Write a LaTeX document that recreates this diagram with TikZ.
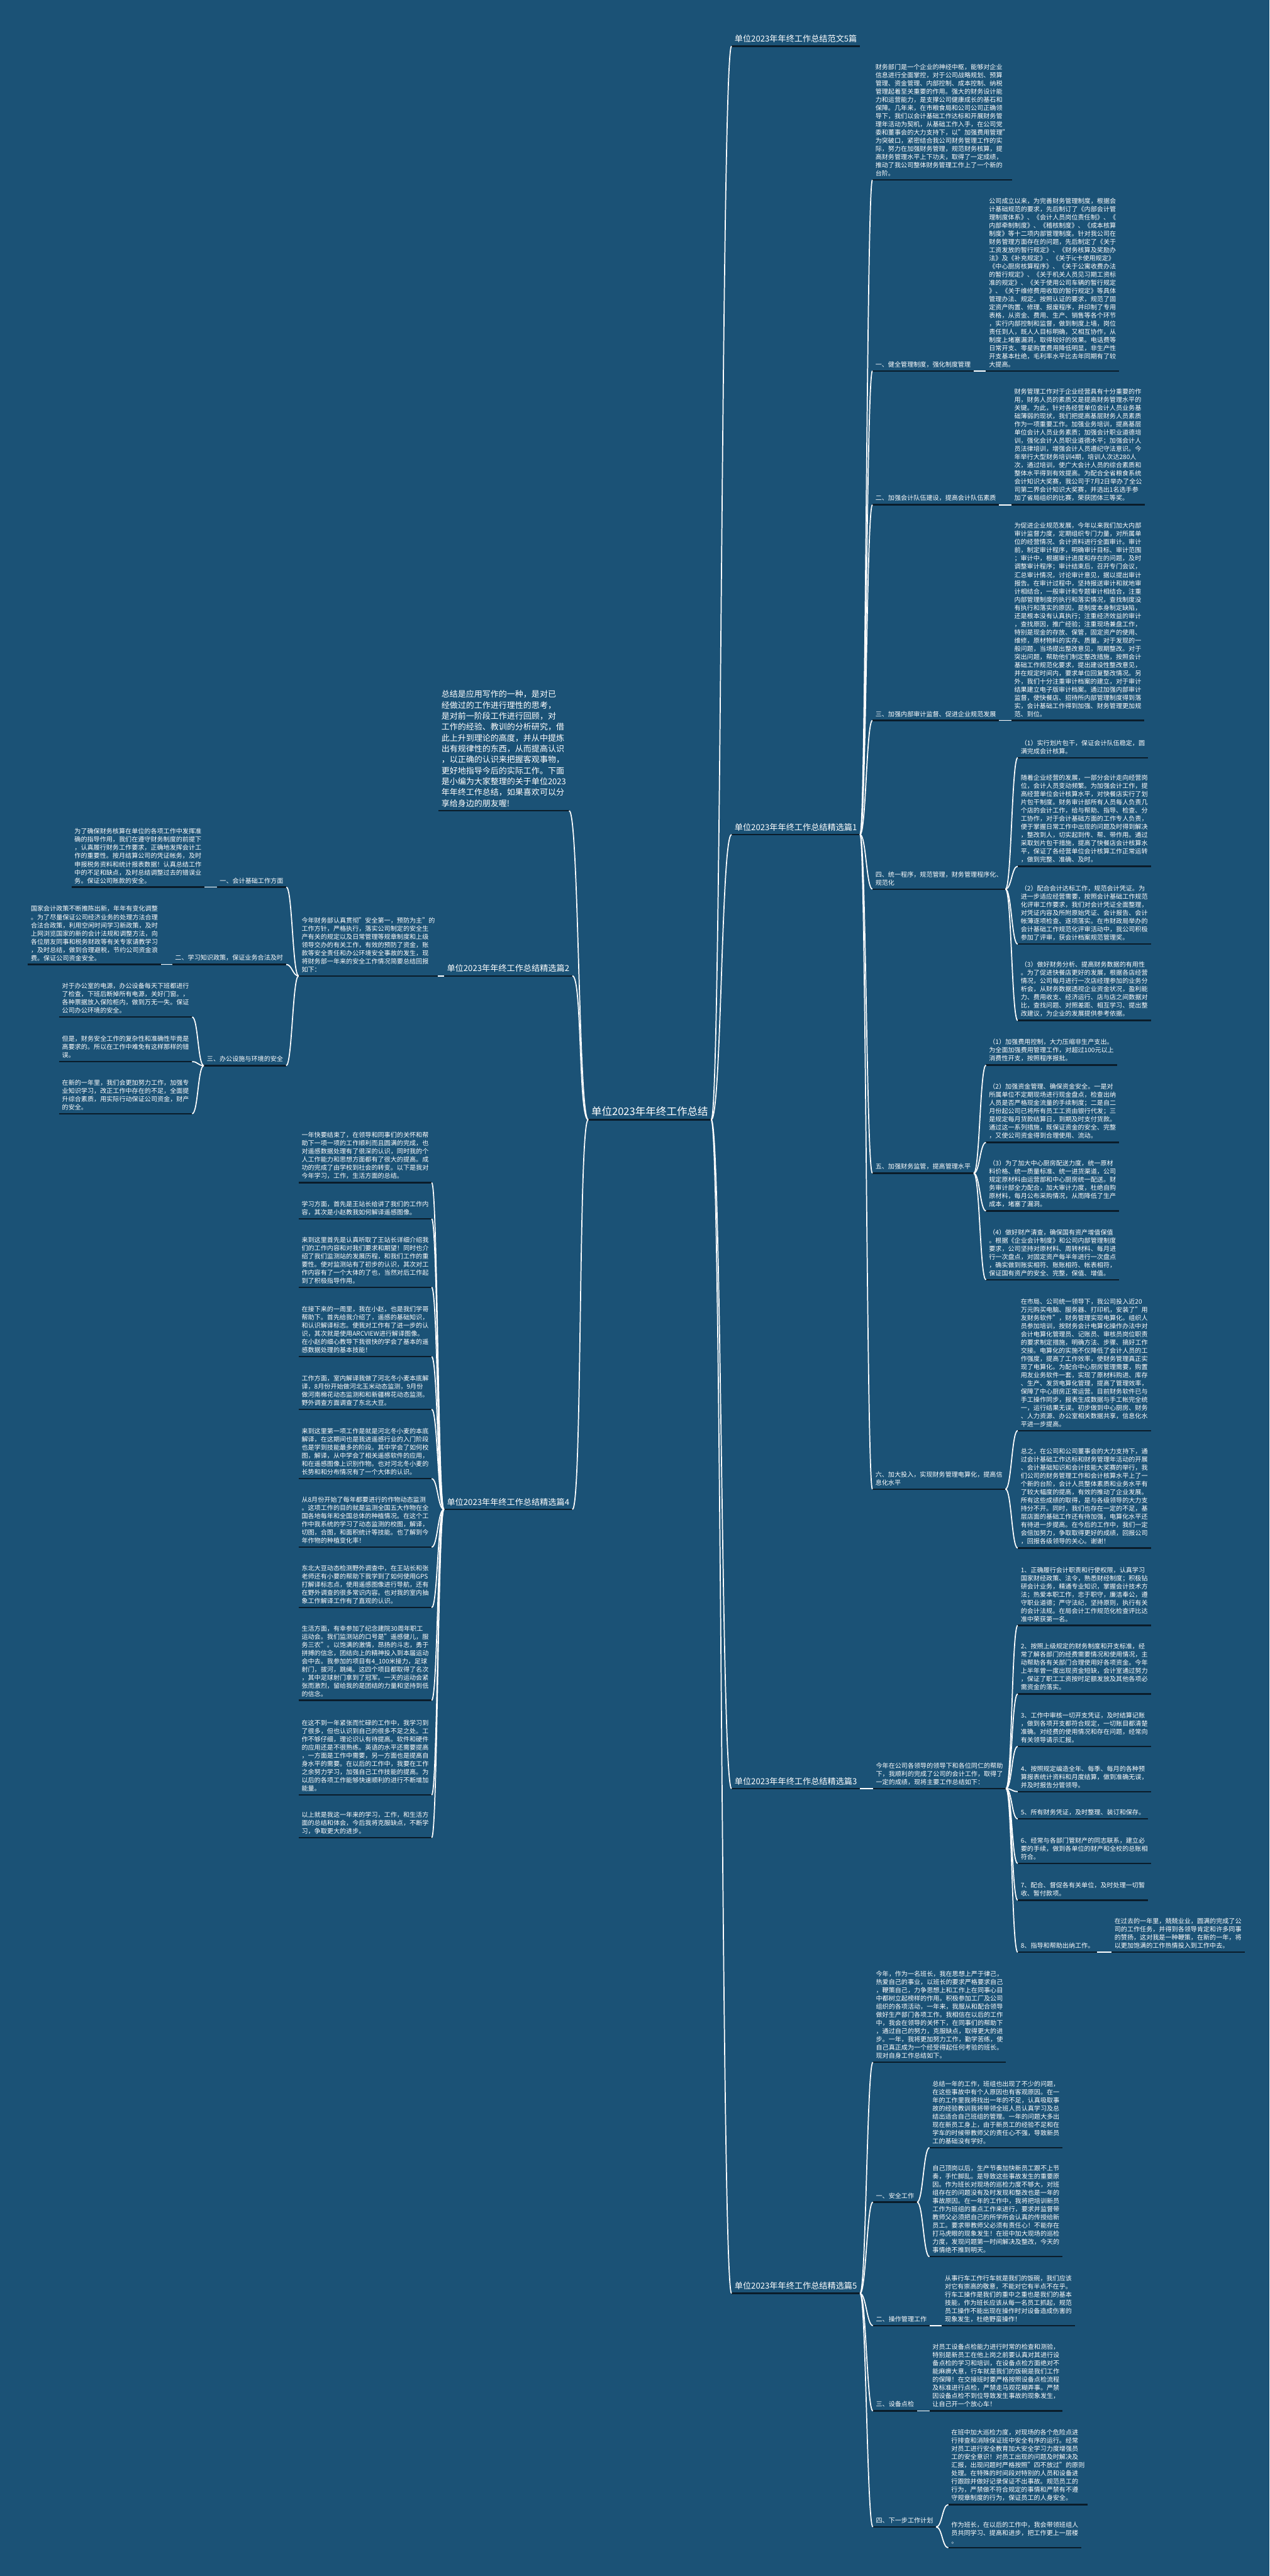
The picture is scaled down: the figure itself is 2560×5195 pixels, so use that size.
\documentclass[tikz,border=0pt]{standalone}
\usepackage{fontspec}
\setmainfont{Noto Sans CJK SC}
\definecolor{bg}{HTML}{1B5276}
\definecolor{ulc}{HTML}{0A1C2A}
\tikzset{
 x=1pt,y=-1pt,
 wire/.style={draw=white,line width=2.2pt},
 ulp/.style={draw=ulc,line width=3pt},
 tn/.style={text=white,align=left,inner xsep=6pt,inner ysep=7pt,anchor=south west,font=\fontsize{12.8}{16.5}\selectfont},
 tb/.style={tn,font=\fontsize{16.7}{22}\selectfont},
 ti/.style={tn,font=\fontsize{16.5}{22}\selectfont},
 troot/.style={tn,font=\fontsize{21}{26}\selectfont},
}
\newcommand\conR[3][12]{\draw[wire] (#2.south east) .. controls +(#1,0) and +(-#1,0) .. (#3.south west);}
\newcommand\conL[3][12]{\draw[wire] (#2.south west) .. controls +(-#1,0) and +(#1,0) .. (#3.south east);}
\begin{document}
\begin{tikzpicture}
\fill[bg] (0,0) rectangle (2560,5195);
\useasboundingbox (0,0) rectangle (2560,5195);

% root
\node[troot] (root) at (1186,2258) {单位2023年年终工作总结};

% ---------- right: 范文5篇
\node[tb] (f5) at (1475,93) {单位2023年年终工作总结范文5篇};

% ---------- right: 精选篇1
\node[tb] (p1) at (1475,1683) {单位2023年年终工作总结精选篇1};
\node[tn] (p1t) at (1759,363) {财务部门是一个企业的神经中枢，能够对企业\\信息进行全面掌控，对于公司战略规划、预算\\管理、资金管理、内部控制、成本控制、纳税\\管理起着至关重要的作用。强大的财务设计能\\力和运营能力，是支撑公司健康成长的基石和\\保障。几年来，在市粮食局和公司公司正确领\\导下，我们以会计基础工作达标和开展财务管\\理年活动为契机，从基础工作入手，在公司党\\委和董事会的大力支持下，以"加强费用管理"\\为突破口，紧密结合我公司财务管理工作的实\\际，努力在加强财务管理，规范财务核算，提\\高财务管理水平上下功夫，取得了一定成绩，\\推动了我公司整体财务管理工作上了一个新的\\台阶。};
\node[tn] (p1a) at (1759,748) {一、健全管理制度，强化制度管理};
\node[tn] (p1at) at (1988,748) {公司成立以来，为完善财务管理制度，根据会\\计基础规范的要求，先后制订了《内部会计管\\理制度体系》、《会计人员岗位责任制》、《\\内部牵制制度》、《稽核制度》、《成本核算\\制度》等十二项内部管理制度。针对我公司在\\财务管理方面存在的问题，先后制定了《关于\\工资发放的暂行规定》、《财务核算及奖励办\\法》及《补充规定》、《关于ic卡使用规定》\\《中心厨房核算程序》、《关于公寓收费办法\\的暂行规定》、《关于机关人员见习期工资标\\准的规定》、《关于使用公司车辆的暂行规定\\》、《关于维修费用收取的暂行规定》等具体\\管理办法、规定。按照认证的要求，规范了固\\定资产购置、修理、报废程序，并印制了专用\\表格，从资金、费用、生产、销售等各个环节\\，实行内部控制和监督，做到制度上墙，岗位\\责任到人，既人人目标明确，又相互协作，从\\制度上堵塞漏洞，取得较好的效果。电话费等\\日常开支、零星购置费用降低明显，非生产性\\开支基本杜绝，毛利率水平比去年同期有了较\\大提高。};
\node[tn] (p1b) at (1759,1018) {二、加强会计队伍建设，提高会计队伍素质};
\node[tn] (p1bt) at (2039,1018) {财务管理工作对于企业经营具有十分重要的作\\用，财务人员的素质又是提高财务管理水平的\\关键。为此，针对各经营单位会计人员业务基\\础薄弱的现状，我们把提高基层财务人员素质\\作为一项重要工作。加强业务培训，提高基层\\单位会计人员业务素质；加强会计职业道德培\\训，强化会计人员职业道德水平；加强会计人\\员法律培训，增强会计人员遵纪守法意识。今\\年举行大型财务培训4期，培训人次达280人\\次，通过培训，使广大会计人员的综合素质和\\整体水平得到有效提高。为配合全省粮食系统\\会计知识大奖赛，我公司于7月2日举办了全公\\司第二界会计知识大奖赛，并选出1名选手参\\加了省局组织的比赛，荣获团体三等奖。};
\node[tn] (p1c) at (1759,1453) {三、加强内部审计监督、促进企业规范发展};
\node[tn] (p1ct) at (2039,1453) {为促进企业规范发展，今年以来我们加大内部\\审计监督力度，定期组织专门力量，对所属单\\位的经营情况、会计资料进行全面审计。审计\\前，制定审计程序，明确审计目标、审计范围\\；审计中，根据审计进度和存在的问题，及时\\调整审计程序；审计结束后，召开专门会议，\\汇总审计情况，讨论审计意见，据以提出审计\\报告。在审计过程中，坚持报送审计和就地审\\计相结合，一般审计和专题审计相结合，注重\\内部管理制度的执行和落实情况，查找制度没\\有执行和落实的原因，是制度本身制定缺陷，\\还是根本没有认真执行；注重经济效益的审计\\，查找原因，推广经验；注重现场兼盘工作，\\特别是现金的存放、保管，固定资产的使用、\\维修，原材物料的实存、质量。对于发现的一\\般问题，当场提出整改意见，限期整改。对于\\突出问题，帮助他们制定整改措施，按照会计\\基础工作规范化要求，提出建设性整改意见，\\并在规定时间内，要求单位回复整改情况。另\\外，我们十分注重审计档案的建立，对于审计\\结果建立电子版审计档案。通过加强内部审计\\监督，使快餐店、招待所内部管理制度得到落\\实，会计基础工作得到加强、财务管理更加规\\范、到位。};
\node[tn] (p1d) at (1759,1793) {四、统一程序，规范管理，财务管理程序化、\\规范化};
\node[tn] (p1d1) at (2052,1528) {（1）实行划片包干，保证会计队伍稳定，圆\\满完成会计核算。};
\node[tn] (p1d2) at (2052,1747) {随着企业经营的发展，一部分会计走向经营岗\\位，会计人员变动频繁。为加强会计工作，提\\高经营单位会计核算水平，对快餐店实行了划\\片包干制度。财务审计部所有人员每人负责几\\个店的会计工作，给与帮助、指导、检查、分\\工协作，对于会计基础方面的工作专人负责，\\便于掌握日常工作中出现的问题及时得到解决\\，整改到人，切实起到传、帮、带作用。通过\\采取划片包干措施，提高了快餐店会计核算水\\平，保证了各经营单位会计核算工作正常运转\\，做到完整、准确、及时。};
\node[tn] (p1d3) at (2052,1904) {（2）配合会计达标工作，规范会计凭证。为\\进一步适应经营需要，按照会计基础工作规范\\化评审工作要求，我们对会计凭证全面整理，\\对凭证内容及所附原始凭证、会计报告、会计\\帐薄逐项检查、逐项落实。在市财政局举办的\\会计基础工作规范化评审活动中，我公司积极\\参加了评审，获会计档案规范管理奖。};
\node[tn] (p1d4) at (2052,2058) {（3）做好财务分析、提高财务数据的有用性\\。为了促进快餐店更好的发展，根据各店经营\\情况，公司每月进行一次店经理参加的业务分\\析会，从财务数据透视企业资金状况，盈利能\\力、费用收支、经济运行、店与店之间数据对\\比，查找问题、对照差距、相互学习、提出整\\改建议，为企业的发展提供参考依据。};
\node[tn] (p1e) at (1759,2366) {五、加强财务监管，提高管理水平};
\node[tn] (p1e1) at (1988,2148) {（1）加强费用控制，大力压缩非生产支出。\\为全面加强费用管理工作，对超过100元以上\\消费性开支，按照程序报批。};
\node[tn] (p1e2) at (1988,2304) {（2）加强资金管理、确保资金安全。一是对\\所属单位不定期现场进行现金盘点，检查出纳\\人员是否严格现金流量的手续制度；二是自二\\月份起公司已将所有员工工资由银行代发；三\\是规定每月货款结算日，到期及时支付货款。\\通过这一系列措施，既保证资金的安全、完整\\，又使公司资金得到合理使用、流动。};
\node[tn] (p1e3) at (1988,2442) {（3）为了加大中心厨房配送力度，统一原材\\料价格、统一质量标准、统一进货渠道，公司\\规定原材料由运营部和中心厨房统一配送。财\\务审计部全力配合，加大审计力度，杜绝自购\\原材料，每月公布采购情况，从而降低了生产\\成本，堵塞了漏洞。};
\node[tn] (p1e4) at (1988,2581) {（4）做好财产清查，确保国有资产增值保值\\。根据《企业会计制度》和公司内部管理制度\\要求，公司坚持对原材料、周转材料、每月进\\行一次盘点，对固定资产每半年进行一次盘点\\，确实做到账实相符、账账相符、帐表相符，\\保证国有资产的安全、完整，保值、增值。};
\node[tn] (p1f) at (1759,3003) {六、加大投入，实现财务管理电算化，提高信\\息化水平};
\node[tn] (p1f1) at (2052,2885) {在市局、公司统一领导下，我公司投入近20\\万元购买电脑、服务器、打印机，安装了"用\\友财务软件"，财务管理实现电算化。组织人\\员参加培训，按财务会计电算化操作办法中对\\会计电算化管理员、记账员、审核员岗位职责\\的要求制定措施，明确方法、步骤、搞好工作\\交接。电算化的实施不仅降低了会计人员的工\\作强度，提高了工作效率，使财务管理真正实\\现了电算化。为配合中心厨房管理需要，购置\\用友业务软件一套，实现了原材料购进、库存\\、生产、发货电算化管理，提高了管理效率，\\保障了中心厨房正常运营。目前财务软件已与\\手工操作同步，报表生成数据与手工帐完全统\\一，运行结果无误。初步做到中心厨房、财务\\、人力资源、办公室相关数据共享，信息化水\\平进一步提高。};
\node[tn] (p1f2) at (2052,3122) {总之，在公司和公司董事会的大力支持下，通\\过会计基础工作达标和财务管理年活动的开展\\、会计基础知识和会计技能大奖赛的举行，我\\们公司的财务管理工作和会计核算水平上了一\\个新的台阶，会计人员整体素质和业务水平有\\了较大幅度的提高，有效的推动了企业发展。\\所有这些成绩的取得，是与各级领导的大力支\\持分不开。同时，我们也存在一定的不足，基\\层店面的基础工作还有待加强，电算化水平还\\有待进一步提高。在今后的工作中，我们一定\\会倍加努力，争取取得更好的成绩，回报公司\\，回报各级领导的关心。谢谢！};

% ---------- right: 精选篇3
\node[tb] (p3) at (1475,3607) {单位2023年年终工作总结精选篇3};
\node[tn] (p3t) at (1760,3607) {今年在公司各领导的领导下和各位同仁的帮助\\下，我顺利的完成了公司的会计工作，取得了\\一定的成绩，现将主要工作总结如下：};
\node[tn] (p3i1) at (2052,3278) {1、正确履行会计职责和行使权限，认真学习\\国家财经政策、法令，熟悉财经制度；积极钻\\研会计业务，精通专业知识，掌握会计技术方\\法；热爱本职工作，忠于职守，廉洁奉公，遵\\守职业道德；严守法纪，坚持原则，执行有关\\的会计法规。在局会计工作规范化检查评比达\\准中荣获第一名。};
\node[tn] (p3i2) at (2052,3416) {2、按照上级规定的财务制度和开支标准，经\\常了解各部门的经费需要情况和使用情况，主\\动帮助各有关部门合理使用好各项资金。今年\\上半年曾一度出现资金短缺，会计室通过努力\\，保证了职工工资按时足额发放及其他各项必\\需资金的落实。};
\node[tn] (p3i3) at (2052,3522) {3、工作中审核一切开支凭证，及时结算记账\\，做到各项开支都符合规定，一切账目都清楚\\准确。对经费的使用情况和存在问题，经常向\\有关领导请示汇报。};
\node[tn] (p3i4) at (2052,3613) {4、按照规定编造全年、每季、每月的各种预\\算报表统计资料和月度结算，做到准确无误，\\并及时报告分管领导。};
\node[tn] (p3i5) at (2052,3668) {5、所有财务凭证，及时整理、装订和保存。};
\node[tn] (p3i6) at (2052,3758) {6、经常与各部门管财产的同志联系，建立必\\要的手续，做到各单位的财产和全校的总账相\\符合。};
\node[tn] (p3i7) at (2052,3832) {7、配合、督促各有关单位，及时处理一切暂\\收、暂付款项。};
\node[tn] (p3i8) at (2052,3937) {8、指导和帮助出纳工作。};
\node[tn] (p3e) at (2241,3937) {在过去的一年里，兢兢业业，圆满的完成了公\\司的工作任务，并得到各领导肯定和许多同事\\的赞扬，这对我是一种鞭策，在新的一年，将\\以更加饱满的工作热情投入到工作中去。};

% ---------- right: 精选篇5
\node[tb] (p5) at (1475,4625) {单位2023年年终工作总结精选篇5};
\node[tn] (p5t) at (1760,4159) {今年，作为一名班长，我在思想上严于律己，\\热爱自己的事业，以班长的要求严格要求自己\\，鞭策自己，力争思想上和工作上在同事心目\\中都树立起榜样的作用。积极参加工厂及公司\\组织的各项活动，一年来，我服从和配合领导\\做好生产部门各项工作。我相信在以后的工作\\中，我会在领导的关怀下，在同事们的帮助下\\，通过自己的努力，克服缺点，取得更大的进\\步。一年，我将更加努力工作，勤学苦练，使\\自己真正成为一个经受得起任何考验的班长。\\现对自身工作总结如下。};
\node[tn] (p5a) at (1760,4441) {一、安全工作};
\node[tn] (p5a1) at (1874,4331) {总结一年的工作，班组也出现了不少的问题，\\在这些事故中有个人原因也有客观原因。在一\\年的工作里我将找出一年的不足，认真吸取事\\故的经验教训我将带领全班人员认真学习及总\\结出适合自己班组的管理。一年的问题大多出\\现在新员工身上，由于新员工的经验不足和在\\学车的时候带教师父的责任心不强，导致新员\\工的基础没有学好。};
\node[tn] (p5a2) at (1874,4551) {自己顶岗以后，生产节奏加快新员工跟不上节\\奏，手忙脚乱。是导致这些事故发生的重要原\\因。作为班长对现场的巡检力度不够大，对班\\组存在的问题没有及时发现和整改也是一年的\\事故原因。在一年的工作中，我将把培训新员\\工作为班组的重点工作来进行，要求并监督带\\教师父必须把自己的所学所会认真的传授给新\\员工。要求带教师父必须有责任心！不能存在\\打马虎眼的现象发生！在班中加大现场的巡检\\力度，发现问题第一时间解决及整改，今天的\\事情绝不推到明天。};
\node[tn] (p5b) at (1760,4690) {二、操作管理工作};
\node[tn] (p5bt) at (1899,4690) {从事行车工作行车就是我们的饭碗，我们应该\\对它有崇高的敬意，不能对它有半点不在乎。\\行车工操作是我们的重中之重也是我们的基本\\技能，作为班长应该从每一名员工抓起，规范\\员工操作不能出现在操作时对设备造成伤害的\\现象发生，杜绝野蛮操作！};
\node[tn] (p5c) at (1760,4862) {三、设备点检};
\node[tn] (p5ct) at (1874,4862) {对员工设备点检能力进行时常的检查和测验，\\特别是新员工在他上岗之前要认真对其进行设\\备点检的学习和培训，在设备点检方面绝对不\\能麻痹大意，行车就是我们的饭碗是我们工作\\的保障！在交接班时要严格按照设备点检流程\\及标准进行点检，严禁走马观花糊弄事。严禁\\因设备点检不到位导致发生事故的现象发生，\\让自己开一个放心车！};
\node[tn] (p5d) at (1760,5096) {四、下一步工作计划};
\node[tn] (p5d1) at (1912,5051) {在班中加大巡检力度，对现场的各个危险点进\\行排查和消除保证班中安全有序的运行。经常\\对员工进行安全教育加大安全学习力度增强员\\工的安全意识！对员工出现的问题及时解决及\\汇报，出现问题时严格按照"四不放过"的原则\\处理。在特殊的时间段对特别的人员和设备进\\行跟踪并做好记录保证不出事故。规范员工的\\行为，严禁做不符合规定的事情和严禁有不遵\\守规章制度的行为，保证员工的人身安全。};
\node[tn] (p5d2) at (1912,5138) {作为班长，在以后的工作中，我会带领班组人\\员共同学习、提高和进步，把工作更上一层楼\\。};

% ---------- left: intro
\node[ti] (intro) at (884,1635) {总结是应用写作的一种，是对已\\经做过的工作进行理性的思考，\\是对前一阶段工作进行回顾，对\\工作的经验、教训的分析研究，借\\此上升到理论的高度，并从中提炼\\出有规律性的东西，从而提高认识\\，以正确的认识来把握客观事物，\\更好地指导今后的实际工作。下面\\是小编为大家整理的关于单位2023\\年年终工作总结，如果喜欢可以分\\享给身边的朋友喔!};

% ---------- left: 精选篇2
\node[tb] (p2) at (895,1968) {单位2023年年终工作总结精选篇2};
\node[tn] (p2t) at (602,1968) {今年财务部认真贯彻"安全第一，预防为主"的\\工作方针，严格执行，落实公司制定的安全生\\产有关的规定以及日常管理等规章制度和上级\\领导交办的有关工作，有效的预防了资金，账\\款等安全责任和办公环境安全事故的发生，现\\将财务部一年来的安全工作情况简要总结回报\\如下：};
\node[tn] (p2a) at (437,1789) {一、会计基础工作方面};
\node[tn] (p2at) at (144,1789) {为了确保财务核算在单位的各项工作中发挥准\\确的指导作用，我们在遵守财务制度的前提下\\，认真履行财务工作要求，正确地发挥会计工\\作的重要性。按月结算公司的凭证帐务，及时\\申报税务资料和统计报表数据！认真总结工作\\中的不足和缺点，及时总结调整过去的错误业\\务。保证公司账款的安全。};
\node[tn] (p2b) at (347,1945) {二、学习知识政策，保证业务合法及时};
\node[tn] (p2bt) at (56,1945) {国家会计政策不断推陈出新，年年有变化调整\\。为了尽量保证公司经济业务的处理方法合理\\合法合政策，利用空闲时间学习新政策，及时\\上网浏览国家的新的会计法规和调整方法，向\\各位朋友同事和税务财政等有关专家请教学习\\，及时总结，做到合理避税，节约公司资金浪\\费。保证公司资金安全。};
\node[tn] (p2c) at (411,2149) {三、办公设施与环境的安全};
\node[tn] (p2c1) at (119,2051) {对于办公室的电源，办公设备每天下班都进行\\了检查，下班后断掉所有电源，关好门窗。，\\各种票据放入保险柜内，做到万无一失。保证\\公司办公环境的安全。};
\node[tn] (p2c2) at (119,2141) {但是，财务安全工作的复杂性和准确性毕竟是\\高要求的。所以在工作中难免有这样那样的错\\误。};
\node[tn] (p2c3) at (119,2246) {在新的一年里，我们会更加努力工作，加强专\\业知识学习，改正工作中存在的不足，全面提\\升综合素质，用实际行动保证公司资金，财产\\的安全。};

% ---------- left: 精选篇4
\node[tb] (p4) at (895,3044) {单位2023年年终工作总结精选篇4};
\node[tn] (q1) at (602,2385) {一年快要结束了，在领导和同事们的关怀和帮\\助下一项一项的工作顺利而且圆满的完成，也\\对遥感数据处理有了很深的认识，同时我的个\\人工作能力和思想方面都有了很大的提高。成\\功的完成了由学校到社会的转变。以下是我对\\今年学习，工作，生活方面的总结。};
\node[tn] (q2) at (602,2458) {学习方面，首先是王站长给讲了我们的工作内\\容，其次是小赵教我如何解译遥感图像。};
\node[tn] (q3) at (602,2596) {来到这里首先是认真听取了王站长详细介绍我\\们的工作内容和对我们要求和期望！同时也介\\绍了我们监测站的发展历程，和我们工作的重\\要性。使对监测站有了初步的认识，其次对工\\作内容有了一个大体的了也，当然对后工作起\\到了积极指导作用。};
\node[tn] (q4) at (602,2736) {在接下来的一周里，我在小赵，也是我们学哥\\帮助下。首先给我介绍了，遥感的基础知识，\\和认识解译标志。使我对工作有了进一步的认\\识，其次就是使用ARCVIEW进行解译图像。\\在小赵的细心教导下我很快的学会了基本的遥\\感数据处理的基本技能！};
\node[tn] (q5) at (602,2842) {工作方面，室内解译我做了河北冬小麦本底解\\译，8月份开始做河北玉米动态监测，9月份\\做河南棉花动态监测和和新疆棉花动态监测。\\野外调查方面调查了东北大豆。};
\node[tn] (q6) at (602,2982) {来到这里第一项工作是就是河北冬小麦的本底\\解译，在这期间也是我进遥感行业的入门阶段\\也是学到技能最多的阶段。其中学会了如何校\\图，解译，从中学会了相关遥感软件的应用，\\和在遥感图像上识别作物。也对河北冬小麦的\\长势和和分布情况有了一个大体的认识。};
\node[tn] (q7) at (602,3120) {从8月份开始了每年都要进行的作物动态监测\\。这项工作的目的就是监测全国五大作物在全\\国各地每年和全国总体的种植情况。在这个工\\作中我系统的学习了动态监测的校图，解译，\\切图，合图，和面积统计等技能。也了解到今\\年作物的种植变化率！};
\node[tn] (q8) at (602,3242) {东北大豆动态检测野外调查中，在王站长和张\\老师还有小要的帮助下我学到了如何使用GPS\\打解译标志点，使用遥感图像进行导航，还有\\在野外调查的很多常识内容。也对我的室内抽\\象工作解译工作有了直观的认识。};
\node[tn] (q9) at (602,3429) {生活方面，有幸参加了纪念建院30周年职工\\运动会。我们监测站的口号是"遥感健儿，服\\务三农"。以饱满的激情，昂扬的斗志，勇于\\拼搏的信念，团结向上的精神投入到本届运动\\会中去。我参加的项目有4\_100米接力，足球\\射门，拔河，跳绳。这四个项目都取得了名次\\，其中足球射门拿到了冠军。一天的运动会紧\\张而激烈，留给我的是团结的力量和坚持到低\\的信念。};
\node[tn] (q10) at (602,3620) {在这不到一年紧张而忙碌的工作中，我学习到\\了很多，但也认识到自己的很多不足之处。工\\作不够仔细，理论识认有待提高。软件和硬件\\的应用还是不很熟练。英语的水平还需要提高\\，一方面是工作中需要，另一方面也是提高自\\身水平的需要。在以后的工作中，我要在工作\\之余努力学习，加强自己工作技能的提高。为\\以后的各项工作能够快速顺利的进行不断增加\\能量。};
\node[tn] (q11) at (602,3706) {以上就是我这一年来的学习，工作，和生活方\\面的总结和体会，今后我将克服缺点，不断学\\习，争取更大的进步。};

% ---------- underlines
\foreach \n in {root,f5,p1,p1t,p1a,p1at,p1b,p1bt,p1c,p1ct,p1d,p1d1,p1d2,p1d3,p1d4,p1e,p1e1,p1e2,p1e3,p1e4,p1f,p1f1,p1f2,
 p3,p3t,p3i1,p3i2,p3i3,p3i4,p3i5,p3i6,p3i7,p3i8,p3e,
 p5,p5t,p5a,p5a1,p5a2,p5b,p5bt,p5c,p5ct,p5d,p5d1,p5d2,
 intro,p2,p2t,p2a,p2at,p2b,p2bt,p2c,p2c1,p2c2,p2c3,
 p4,q1,q2,q3,q4,q5,q6,q7,q8,q9,q10,q11}
 {\draw[ulp] (\n.south west) -- (\n.south east);}

% ---------- connectors
\conR[21]{root}{f5}
\conR[21]{root}{p1}
\conR[21]{root}{p3}
\conR[21]{root}{p5}
\conL[20]{root}{intro}
\conL[20]{root}{p2}
\conL[20]{root}{p4}

\foreach \c in {p1t,p1a,p1b,p1c,p1d,p1e,p1f}{\conR{p1}{\c}}
\conR{p1a}{p1at}
\conR{p1b}{p1bt}
\conR{p1c}{p1ct}
\foreach \c in {p1d1,p1d2,p1d3,p1d4}{\conR{p1d}{\c}}
\foreach \c in {p1e1,p1e2,p1e3,p1e4}{\conR{p1e}{\c}}
\foreach \c in {p1f1,p1f2}{\conR{p1f}{\c}}

\conR{p3}{p3t}
\foreach \c in {p3i1,p3i2,p3i3,p3i4,p3i5,p3i6,p3i7,p3i8}{\conR{p3t}{\c}}
\conR{p3i8}{p3e}

\foreach \c in {p5t,p5a,p5b,p5c,p5d}{\conR{p5}{\c}}
\foreach \c in {p5a1,p5a2}{\conR{p5a}{\c}}
\conR{p5b}{p5bt}
\conR{p5c}{p5ct}
\foreach \c in {p5d1,p5d2}{\conR{p5d}{\c}}

\conL{p2}{p2t}
\foreach \c in {p2a,p2b,p2c}{\conL{p2t}{\c}}
\conL{p2a}{p2at}
\conL{p2b}{p2bt}
\foreach \c in {p2c1,p2c2,p2c3}{\conL{p2c}{\c}}

\foreach \c in {q1,q2,q3,q4,q5,q6,q7,q8,q9,q10,q11}{\conL{p4}{\c}}
\end{tikzpicture}
\end{document}
